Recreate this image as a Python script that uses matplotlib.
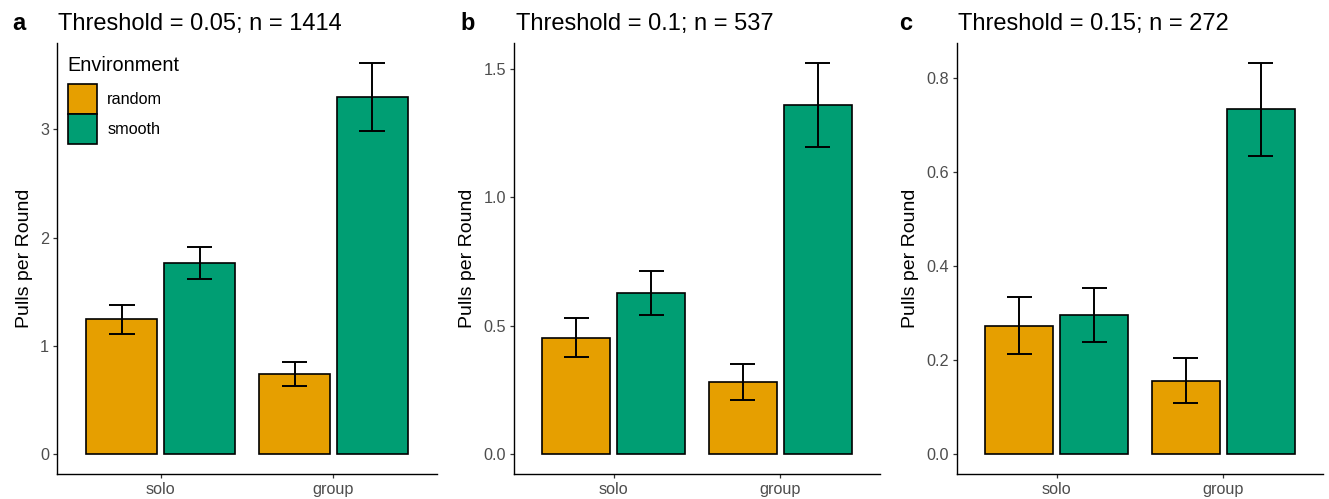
import matplotlib
matplotlib.use("Agg")
import matplotlib.pyplot as plt
from matplotlib.patches import Patch

plt.rcParams['font.family'] = ['Liberation Sans', 'DejaVu Sans']

# ---------------- data ----------------
groups = ["solo", "group"]
environments = ["random", "smooth"]
env_colors = ["#E69F00", "#009E73"]
panel_letters = ["a", "b", "c"]
panel_titles = ["Threshold = 0.05; n = 1414",
                "Threshold = 0.1; n = 537",
                "Threshold = 0.15; n = 272"]
legend_title = "Environment"
y_label = "Pulls per Round"

# threshold 0.05
t005_mean_random = [1.245, 0.746]
t005_mean_smooth = [1.769, 3.300]
t005_low_random = [1.113, 0.632]
t005_high_random = [1.374, 0.854]
t005_low_smooth = [1.621, 2.980]
t005_high_smooth = [1.910, 3.614]

# threshold 0.1
t010_mean_random = [0.453, 0.282]
t010_mean_smooth = [0.626, 1.358]
t010_low_random = [0.378, 0.213]
t010_high_random = [0.530, 0.352]
t010_low_smooth = [0.540, 1.194]
t010_high_smooth = [0.711, 1.523]

# threshold 0.15
t015_mean_random = [0.274, 0.157]
t015_mean_smooth = [0.297, 0.735]
t015_low_random = [0.2125, 0.109]
t015_high_random = [0.335, 0.204]
t015_low_smooth = [0.2395, 0.634]
t015_high_smooth = [0.354, 0.833]

y_ticks_a = [0, 1, 2, 3]
y_ticks_b = [0.0, 0.5, 1.0, 1.5]
y_ticks_c = [0.0, 0.2, 0.4, 0.6, 0.8]
y_ticklabels_a = ["0", "1", "2", "3"]
y_ticklabels_b = ["0.0", "0.5", "1.0", "1.5"]
y_ticklabels_c = ["0.0", "0.2", "0.4", "0.6", "0.8"]

panels = [
    dict(means=[t005_mean_random, t005_mean_smooth],
         lows=[t005_low_random, t005_low_smooth],
         highs=[t005_high_random, t005_high_smooth],
         ticks=y_ticks_a, ticklabels=y_ticklabels_a),
    dict(means=[t010_mean_random, t010_mean_smooth],
         lows=[t010_low_random, t010_low_smooth],
         highs=[t010_high_random, t010_high_smooth],
         ticks=y_ticks_b, ticklabels=y_ticklabels_b),
    dict(means=[t015_mean_random, t015_mean_smooth],
         lows=[t015_low_random, t015_low_smooth],
         highs=[t015_high_random, t015_high_smooth],
         ticks=y_ticks_c, ticklabels=y_ticklabels_c),
]

# ---------------- layout ----------------
W, H = 1329, 499
fig = plt.figure(figsize=(W / 100, H / 100), dpi=100)

ax_px = [(57, 437), (514, 880), (957, 1323)]
top_px, bottom_px = 43, 474
ylabel_right_px = [33, 476, 919]
letter_x_px = [12, 460, 899]

offset = 0.225
bar_w = 0.41
cap_half = 0.075
lw_bar = 1.2
lw_err = 1.4

for i, p in enumerate(panels):
    l, r = ax_px[i]
    ax = fig.add_axes([l / W, 1 - bottom_px / H, (r - l) / W, (bottom_px - top_px) / H])
    x_base = list(range(1, len(groups) + 1))
    for j, env in enumerate(environments):
        xs = [x + (j - 0.5) * 2 * offset for x in x_base]
        ax.bar(xs, p["means"][j], width=bar_w, color=env_colors[j],
               edgecolor="black", linewidth=lw_bar, zorder=2, label=env)
        ax.vlines(xs, p["lows"][j], p["highs"][j], color="black", linewidth=lw_err, zorder=3)
        ax.hlines(p["lows"][j], [x - cap_half for x in xs], [x + cap_half for x in xs],
                  color="black", linewidth=lw_err, zorder=3)
        ax.hlines(p["highs"][j], [x - cap_half for x in xs], [x + cap_half for x in xs],
                  color="black", linewidth=lw_err, zorder=3)

    top = max(max(h) for h in p["highs"])
    ax.set_ylim(-0.05 * top, 1.05 * top)
    ax.set_xlim(0.4, len(groups) + 0.6)
    ax.set_xticks(x_base)
    ax.set_xticklabels(groups)
    ax.set_yticks(p["ticks"])
    ax.set_yticklabels(p["ticklabels"])

    for s in ["top", "right"]:
        ax.spines[s].set_visible(False)
    for s in ["left", "bottom"]:
        ax.spines[s].set_linewidth(1.0)
        ax.spines[s].set_color("black")
    ax.tick_params(axis="both", length=3.2, width=0.9, color="#333333",
                   labelsize=11.7, labelcolor="#4D4D4D", pad=2.5)

    ax.set_ylabel(y_label, fontsize=14, color="black")
    ax.yaxis.set_label_coords((ylabel_right_px[i] - l) / (r - l), 0.5)

    fig.text((l + 1.5) / W, 1 - 30 / H, panel_titles[i], fontsize=17,
             ha="left", va="baseline", color="black")
    fig.text(letter_x_px[i] / W, 1 - 30 / H, panel_letters[i], fontsize=17,
             fontweight="bold", ha="left", va="baseline", color="black")

    if i == 0:
        handles = [Patch(facecolor=env_colors[k], edgecolor="black", linewidth=lw_bar)
                   for k in range(len(environments))]
        fig.text(67 / W, 1 - 71 / H, legend_title, fontsize=14.3,
                 ha="left", va="baseline", color="black")
        ax.legend(handles, environments,
                  loc="upper left", bbox_to_anchor=(67.5 / W, 1 - 84.3 / H),
                  bbox_transform=fig.transFigure, frameon=False,
                  fontsize=11.7,
                  handlelength=1.82, handleheight=2.46, labelspacing=0.0,
                  handletextpad=0.62, borderpad=0.0, borderaxespad=0.0)

fig.savefig("out.png", dpi=100)
